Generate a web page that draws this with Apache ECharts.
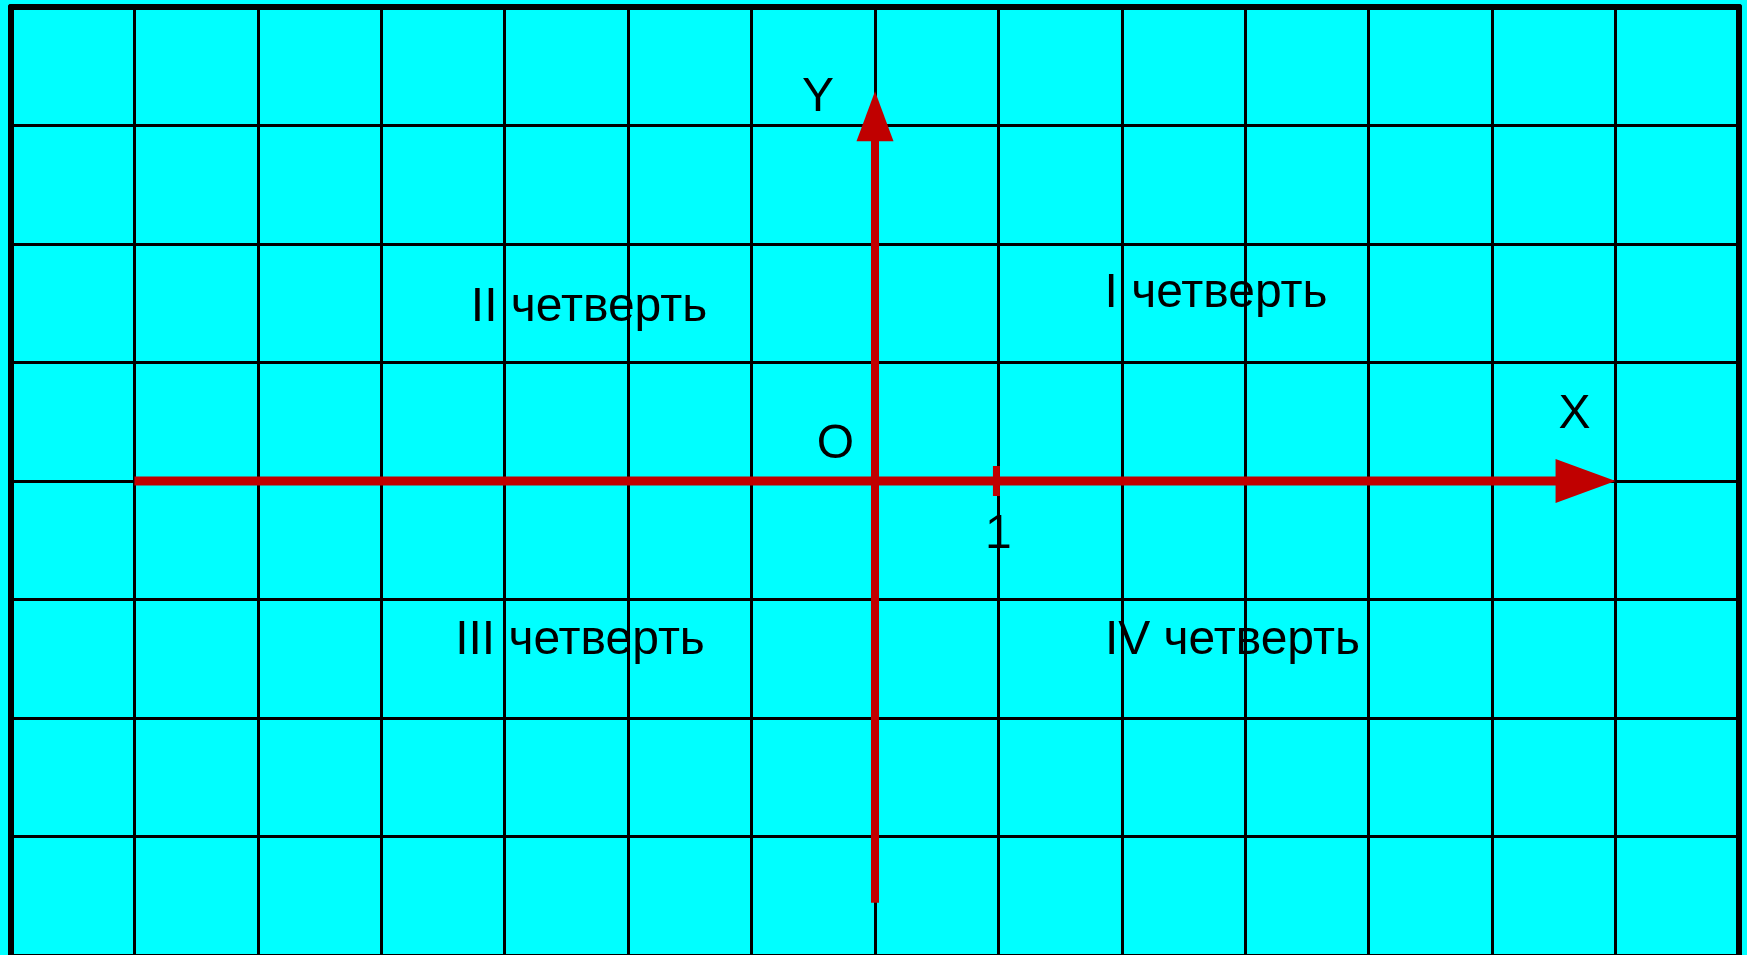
<!DOCTYPE html>
<html>
<head>
<meta charset="utf-8">
<script src="https://cdn.jsdelivr.net/npm/echarts@6/dist/echarts.min.js"></script>
<style>
  html, body { margin: 0; padding: 0; background: #00ffff; }
  #chart { width: 1747px; height: 955px; }
</style>
</head>
<body>
<div id="chart"></div>
<script>
// ---- data ----
const xRange = [-7, 7];
const yRange = [-4, 4];
const gridStep = 1;
// axis arrows: [startX, startY, tipX, tipY]
const xAxisArrow = [-6, 0, 6, 0];
const yAxisArrow = [0, -3.56, 0, 3.29];
const unitTick = [1, 0];
const labelTexts = ['Y', 'X', 'O', '1', 'I четверть', 'II четверть', 'III четверть', 'IV четверть'];
const labelX = [-0.462, 5.667, -0.32, 1.0, 2.763, -2.317, -2.39, 2.896];
const labelY = [3.234, 0.559, 0.302, -0.451, 1.577, 1.459, -1.351, -1.351];

// ---- styles ----
const RED = '#c00000';
const arrowStyles = [
  { width: 9, head: 60, half: 22 },
  { width: 8, head: 50, half: 18.5 }
];
const frameLine = { show: true, onZero: false, lineStyle: { color: '#000', width: 6 } };
const gridLine = { show: true, lineStyle: { color: '#000', width: 3 } };

const chart = echarts.init(document.getElementById('chart'), null, { renderer: 'canvas' });

function renderArrow(params, api) {
  const a = api.coord([api.value(0), api.value(1)]);
  const b = api.coord([api.value(2), api.value(3)]);
  const st = arrowStyles[params.dataIndex];
  const dx = b[0] - a[0], dy = b[1] - a[1];
  const len = Math.hypot(dx, dy);
  const ux = dx / len, uy = dy / len;
  const px = -uy, py = ux;
  const base = [b[0] - ux * st.head, b[1] - uy * st.head];
  return {
    type: 'group',
    children: [
      { type: 'line', shape: { x1: a[0], y1: a[1], x2: base[0] + ux * 2, y2: base[1] + uy * 2 },
        style: { stroke: RED, lineWidth: st.width, lineCap: 'butt' } },
      { type: 'polygon', shape: { points: [b, [base[0] + px * st.half, base[1] + py * st.half], [base[0] - px * st.half, base[1] - py * st.half]] },
        style: { fill: RED } }
    ]
  };
}

function renderTick(params, api) {
  const p = api.coord([api.value(0), api.value(1)]);
  return { type: 'rect', shape: { x: p[0] - 2 - 3.5, y: p[1] - 15, width: 7, height: 30 }, style: { fill: RED } };
}

function renderLabel(params, api) {
  const p = api.coord([api.value(0), api.value(1)]);
  return {
    type: 'text', x: p[0], y: p[1],
    style: {
      text: labelTexts[params.dataIndex],
      fill: '#000',
      fontSize: 48,
      fontFamily: '"Liberation Sans", Arial, sans-serif',
      align: 'center',
      verticalAlign: 'middle'
    }
  };
}

const option = {
  backgroundColor: '#00ffff',
  animation: false,
  grid: {
    left: 11, right: 8, top: 7, bottom: -1.4,
    show: false
  },
  xAxis: {
    type: 'value', min: xRange[0], max: xRange[1], interval: gridStep, position: 'top',
    axisLine: frameLine, axisTick: { show: false }, axisLabel: { show: false },
    splitLine: gridLine
  },
  yAxis: [
    {
      type: 'value', min: yRange[0], max: yRange[1], interval: gridStep, position: 'left',
      axisLine: frameLine, axisTick: { show: false }, axisLabel: { show: false },
      splitLine: gridLine
    },
    {
      type: 'value', min: yRange[0], max: yRange[1], interval: gridStep, position: 'right',
      axisLine: frameLine, axisTick: { show: false }, axisLabel: { show: false },
      splitLine: { show: false }
    }
  ],
  series: [
    {
      type: 'custom', coordinateSystem: 'cartesian2d', clip: false, z: 3,
      encode: { x: [0, 2], y: [1, 3] },
      data: [xAxisArrow, yAxisArrow],
      renderItem: renderArrow
    },
    {
      type: 'custom', coordinateSystem: 'cartesian2d', clip: false, z: 4,
      encode: { x: 0, y: 1 },
      data: [unitTick],
      renderItem: renderTick
    },
    {
      type: 'custom', coordinateSystem: 'cartesian2d', clip: false, z: 5,
      encode: { x: 0, y: 1 },
      data: labelX.map((x, i) => [x, labelY[i]]),
      renderItem: renderLabel
    }
  ]
};
chart.setOption(option);
</script>
</body>
</html>
